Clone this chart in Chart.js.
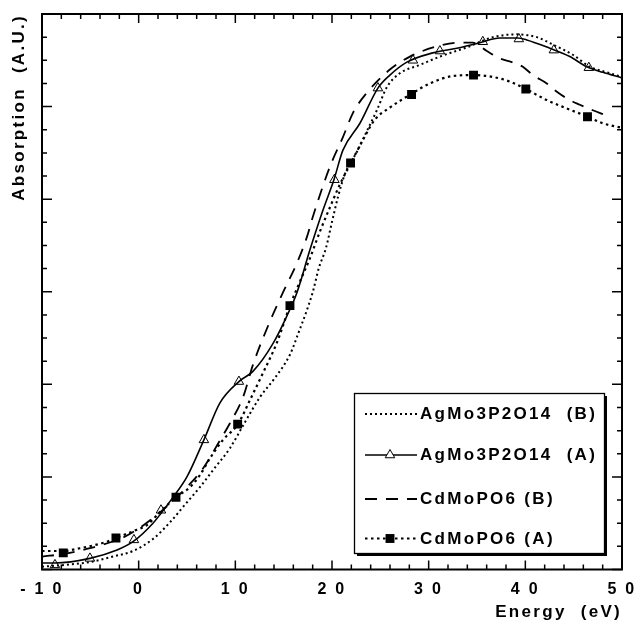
<!DOCTYPE html>
<html><head><meta charset="utf-8">
<script src="https://cdn.jsdelivr.net/npm/chart.js@4/dist/chart.umd.min.js"></script>
<style>html,body{margin:0;padding:0;background:#fff}#wrap{width:639px;height:626px;position:relative}</style>
</head><body><div id="wrap"><canvas id="c" width="639" height="626"></canvas></div>
<script>
const FONT = "'Liberation Sans', Arial, Helvetica, sans-serif";
const xTickValues = [-10, 0, 10, 20, 30, 40, 50];
const xTickLabels = ['- 1 0', '0', '1 0', '2 0', '3 0', '4 0', '5 0'];
const seriesLabels = ['AgMo3P2O14  (B)', 'AgMo3P2O14  (A)', 'CdMoPO6 (B)', 'CdMoPO6 (A)'];
const xTitle = 'Energy  (eV)';
const yTitle = 'Absorption  (A.U.)';

// AgMo3P2O14 (B) - dotted
const agB_E = [-10, -7.62, -5.04, -2.66, -0.59, 1.48, 3.24, 4.79, 6.34, 7.89, 9.44, 10.99, 12.54, 14.10, 15.65, 16.58, 17.40, 18.02, 18.65, 19.37, 19.99, 20.61, 21.33, 22.57, 23.40, 24.64, 25.68, 27.02, 29.09, 31.16, 33.95, 36.64, 39.12, 41.19, 42.84, 44.91, 46.67, 48.43, 50];
const agB_A = [0.03, 0.05, 0.08, 0.14, 0.20, 0.33, 0.51, 0.70, 0.89, 1.10, 1.31, 1.59, 1.86, 2.07, 2.32, 2.57, 2.80, 3.00, 3.26, 3.47, 3.75, 4.02, 4.27, 4.51, 4.69, 4.96, 5.21, 5.36, 5.45, 5.54, 5.64, 5.75, 5.78, 5.75, 5.67, 5.56, 5.43, 5.37, 5.32];

// AgMo3P2O14 (A) - solid with open triangles
const agA_E = [-10, -8.66, -5.04, -2.24, -0.59, 1.48, 3.55, 4.99, 6.75, 8.41, 10.37, 11.82, 13.89, 15.34, 16.37, 17.71, 19.06, 20.20, 21.13, 22.89, 24.75, 25.99, 27.75, 30.43, 32.92, 35.29, 37.36, 39.22, 40.15, 42.53, 44.60, 46.36, 48.01, 50];
const agA_A = [0.07, 0.07, 0.12, 0.21, 0.30, 0.50, 0.78, 1.00, 1.40, 1.80, 2.03, 2.14, 2.44, 2.74, 2.99, 3.45, 3.88, 4.21, 4.53, 4.82, 5.20, 5.34, 5.48, 5.58, 5.63, 5.69, 5.74, 5.74, 5.72, 5.63, 5.54, 5.43, 5.37, 5.31];
const agAmk_E = [-8.66, -5.04, -0.49, 2.31, 6.75, 10.37, 20.25, 24.75, 28.37, 31.16, 35.60, 39.33, 42.95, 46.57];
const agAmk_A = [0.05, 0.12, 0.32, 0.64, 1.40, 2.03, 4.21, 5.20, 5.50, 5.60, 5.70, 5.73, 5.61, 5.42];

// CdMoPO6 (B) - dashed
const cdB_E = [-10, -7.62, -5.04, -1.73, -0.18, 1.89, 4.99, 6.65, 8.10, 9.44, 10.79, 11.82, 13.58, 14.92, 16.37, 17.40, 18.02, 19.78, 21.13, 22.16, 23.61, 25.99, 28.06, 30.85, 32.92, 34.57, 36.02, 37.36, 38.60, 39.74, 40.78, 42.22, 43.26, 44.60, 45.64, 46.98, 48.22];
const cdB_A = [0.14, 0.17, 0.23, 0.34, 0.43, 0.59, 0.89, 1.09, 1.34, 1.58, 1.86, 2.21, 2.68, 2.99, 3.31, 3.59, 3.81, 4.35, 4.67, 4.93, 5.15, 5.40, 5.54, 5.65, 5.69, 5.69, 5.60, 5.52, 5.48, 5.43, 5.34, 5.25, 5.16, 5.07, 5.02, 4.96, 4.91];

// CdMoPO6 (A) - dotted with filled squares
const cdA_E = [-10, -7.83, -6.07, -3.28, -2.35, -0.18, 0.86, 2.20, 3.86, 5.31, 6.34, 7.37, 8.72, 10.27, 11.51, 12.85, 14.30, 15.65, 16.68, 17.71, 18.75, 19.78, 20.82, 21.95, 23.20, 24.44, 25.99, 28.26, 30.12, 32.50, 34.67, 36.64, 38.40, 40.05, 42.22, 44.29, 46.46, 48.01, 50];
const cdA_A = [0.20, 0.20, 0.23, 0.30, 0.34, 0.43, 0.48, 0.62, 0.78, 0.89, 1.02, 1.20, 1.40, 1.57, 1.83, 2.12, 2.45, 2.85, 3.11, 3.36, 3.65, 3.91, 4.16, 4.39, 4.64, 4.86, 4.99, 5.14, 5.25, 5.33, 5.34, 5.32, 5.27, 5.19, 5.07, 4.98, 4.89, 4.82, 4.77];
const cdAmk_E = [-7.80, -2.35, 3.86, 10.24, 15.65, 21.92, 28.23, 34.64, 40.05, 46.43];
const cdAmk_A = [0.18, 0.34, 0.78, 1.57, 2.85, 4.39, 5.13, 5.34, 5.19, 4.89];

const zip = (xs, ys) => xs.map((x, i) => ({x: x, y: ys[i]}));
const LS = '2.3px';

const spacingPlugin = {
  id: 'spacing',
  beforeUpdate(chart) { chart.ctx.letterSpacing = LS; },
  beforeLayout(chart) { chart.ctx.letterSpacing = LS; },
  beforeDraw(chart) { chart.ctx.letterSpacing = LS; }
};

const framePlugin = {
  id: 'frame',
  afterDatasetsDraw(chart) {
    const ctx = chart.ctx, a = chart.chartArea;
    const xs = chart.scales.x, ys = chart.scales.y;
    ctx.save();
    ctx.strokeStyle = '#000';
    ctx.lineWidth = 1.5;
    ctx.beginPath();
    xs.ticks.forEach(t => {
      const p = xs.getPixelForValue(t.value);
      const major = Math.abs(t.value % 10) < 1e-6;
      const L = major ? 9 : 5;
      ctx.moveTo(p, a.bottom); ctx.lineTo(p, a.bottom - L);
      ctx.moveTo(p, a.top); ctx.lineTo(p, a.top + L);
    });
    ys.ticks.forEach(t => {
      const p = ys.getPixelForValue(t.value);
      const major = Math.abs(t.value - Math.round(t.value)) < 1e-6;
      const L = major ? 10 : 5;
      ctx.moveTo(a.left, p); ctx.lineTo(a.left + L, p);
      ctx.moveTo(a.right, p); ctx.lineTo(a.right - L, p);
    });
    ctx.stroke();
    ctx.lineWidth = 2;
    ctx.strokeRect(a.left, a.top, a.right - a.left, a.bottom - a.top);
    ctx.restore();
  }
};

const legendPlugin = {
  id: 'boxLegend',
  afterDraw(chart) {
    const ctx = chart.ctx;
    const dsets = chart.data.datasets;
    const entries = [{line: 0}, {line: 1, mark: 4}, {line: 2}, {line: 3, mark: 5}];
    const rowY = [414, 455, 499, 538.5];
    ctx.save();
    ctx.letterSpacing = LS;
    const bx = 354.5, by = 393.5, bw = 250, bh = 160;
    ctx.fillStyle = '#000';
    ctx.fillRect(bx + 2.5, by + 2.5, bw, bh);
    ctx.fillStyle = '#fff';
    ctx.fillRect(bx, by, bw, bh);
    ctx.strokeStyle = '#000';
    ctx.lineWidth = 1.3;
    ctx.setLineDash([]);
    ctx.strokeRect(bx, by, bw, bh);
    entries.forEach((e, i) => {
      const ds = dsets[e.line];
      const y = rowY[i];
      ctx.save();
      ctx.strokeStyle = ds.borderColor;
      ctx.lineWidth = ds.borderWidth;
      ctx.setLineDash(ds.borderDash || []);
      ctx.beginPath();
      ctx.moveTo(365, y); ctx.lineTo(417, y);
      ctx.stroke();
      ctx.restore();
      if (e.mark !== undefined) {
        const m = dsets[e.mark];
        ctx.save();
        ctx.setLineDash([]);
        ctx.fillStyle = m.backgroundColor;
        ctx.strokeStyle = m.borderColor;
        ctx.lineWidth = m.borderWidth;
        Chart.helpers.drawPoint(ctx, {pointStyle: m.pointStyle, radius: m.pointRadius, borderWidth: m.borderWidth, rotation: 0}, 390, y);
        ctx.restore();
      }
      ctx.fillStyle = '#000';
      ctx.font = 'bold 17px ' + FONT;
      ctx.textBaseline = 'middle';
      ctx.textAlign = 'left';
      ctx.fillText(ds.label, 420, y + 0.5);
    });
    ctx.restore();
  }
};

new Chart(document.getElementById('c'), {
  type: 'line',
  data: {
    datasets: [
      {label: seriesLabels[0], data: zip(agB_E, agB_A), borderColor: '#000', borderWidth: 2, borderDash: [2, 3], pointRadius: 0, fill: false, cubicInterpolationMode: 'monotone'},
      {label: seriesLabels[1], data: zip(agA_E, agA_A), borderColor: '#000', borderWidth: 1.6, borderDash: [], pointRadius: 0, fill: false, cubicInterpolationMode: 'monotone'},
      {label: seriesLabels[2], data: zip(cdB_E, cdB_A), borderColor: '#000', borderWidth: 1.8, borderDash: [12, 9], pointRadius: 0, fill: false, cubicInterpolationMode: 'monotone'},
      {label: seriesLabels[3], data: zip(cdA_E, cdA_A), borderColor: '#000', borderWidth: 2.2, borderDash: [2.5, 3.5], pointRadius: 0, fill: false, cubicInterpolationMode: 'monotone'},
      {label: seriesLabels[1] + ' markers', data: zip(agAmk_E, agAmk_A), showLine: false, pointStyle: 'triangle', pointRadius: 5.5, backgroundColor: '#fff', borderColor: '#000', borderWidth: 1},
      {label: seriesLabels[3] + ' markers', data: zip(cdAmk_E, cdAmk_A), showLine: false, pointStyle: 'rect', pointRadius: 6.3, backgroundColor: '#000', borderColor: '#000', borderWidth: 0}
    ]
  },
  options: {
    responsive: false,
    animation: false,
    devicePixelRatio: 1,
    layout: {padding: {left: 0, right: 17, top: 14, bottom: 0}},
    plugins: {legend: {display: false}, tooltip: {enabled: false}},
    scales: {
      x: {
        type: 'linear', min: -10, max: 50,
        ticks: {
          stepSize: 2, autoSkip: false, maxRotation: 0, padding: 10, color: '#000',
          font: {family: FONT, size: 16, weight: 'bold'},
          callback: v => { const i = xTickValues.indexOf(v); return i >= 0 ? xTickLabels[i] : ''; }
        },
        grid: {display: false, drawTicks: false},
        border: {display: false},
        title: {display: true, text: xTitle, align: 'end', color: '#000', font: {family: FONT, size: 17, weight: 'bold'}, padding: {top: 0, bottom: 3}},
        afterFit: s => { s.height = 56.5; s.paddingLeft = 0; s.paddingRight = 0; }
      },
      y: {
        type: 'linear', min: 0, max: 6,
        ticks: {stepSize: 0.25, display: false},
        grid: {display: false, drawTicks: false},
        border: {display: false},
        title: {display: true, text: yTitle, align: 'end', color: '#000', font: {family: FONT, size: 17, weight: 'bold'}, padding: {top: 9, bottom: 0}},
        afterFit: s => { s.width = 42; }
      }
    }
  },
  plugins: [spacingPlugin, framePlugin, legendPlugin]
});
</script>
</body></html>
